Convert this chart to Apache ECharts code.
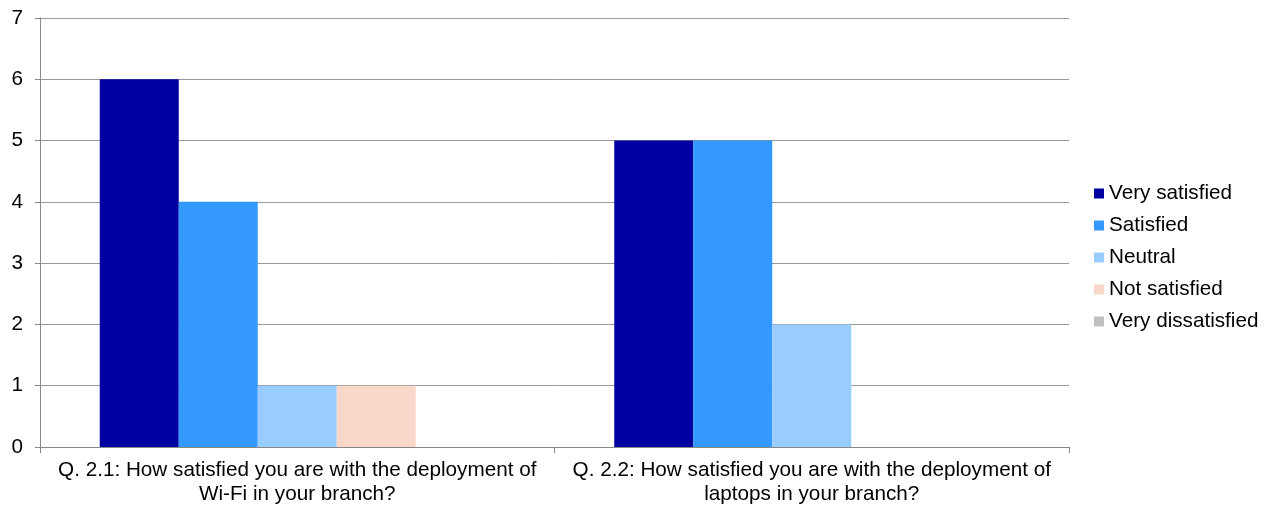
<!DOCTYPE html>
<html>
<head>
<meta charset="utf-8">
<script src="https://cdn.jsdelivr.net/npm/echarts@6/dist/echarts.min.js"></script>
<style>
	html, body { margin: 0; padding: 0; background: #fff; }
	/* 必须设置宽高 */
	#chart { width: 1279px; height: 508px; }
</style>
</head>
<body>
<div id="chart"></div>
<script>
	// 数据
	var categories = [
		'Q. 2.1: How satisfied you are with the deployment of\nWi-Fi in your branch?',
		'Q. 2.2: How satisfied you are with the deployment of\nlaptops in your branch?'
	];
	var seriesNames = ['Very satisfied', 'Satisfied', 'Neutral', 'Not satisfied', 'Very dissatisfied'];
	var verySatisfied = [6, 5];
	var satisfied = [4, 5];
	var neutral = [1, 2];
	var notSatisfied = [1, 0];
	var veryDissatisfied = [0, 0];
	var colors = ['#0000A0', '#3399FF', '#99CCFF', '#F9D8CA', '#C0C0C0'];

	var values = [verySatisfied, satisfied, neutral, notSatisfied, veryDissatisfied];
	var font = 'Liberation Sans, Arial, sans-serif';

	var chart = echarts.init(document.getElementById('chart'));

	var option = {
		animation: false,
		textStyle: { fontFamily: font },
		grid: { left: 40, right: 210, top: 18, bottom: 61 },
		legend: {
			orient: 'vertical',
			left: 1089,
			top: 178,
			itemWidth: 10,
			itemHeight: 10,
			itemGap: 11,
			icon: 'rect',
			data: seriesNames,
			textStyle: { fontSize: 20.7, color: '#000', fontFamily: font }
		},
		xAxis: {
			type: 'category',
			data: categories,
			axisLine: { lineStyle: { color: '#888' } },
			axisTick: { show: true, length: 6, lineStyle: { color: '#888' } },
			axisLabel: {
				color: '#000',
				fontSize: 20.7,
				lineHeight: 24,
				margin: 11,
				interval: 0,
				fontFamily: font
			}
		},
		yAxis: {
			type: 'value',
			min: 0,
			max: 7,
			interval: 1,
			axisLine: { show: true, lineStyle: { color: '#888' } },
			axisTick: { show: true, length: 5, lineStyle: { color: '#888' } },
			axisLabel: { color: '#000', fontSize: 20.7, margin: 17, fontFamily: font },
			splitLine: { lineStyle: { color: '#999' } }
		},
		series: seriesNames.map(function (name, i) {
			return {
				name: name,
				type: 'bar',
				data: values[i],
				barWidth: 79,
				barGap: '0%',
				itemStyle: { color: colors[i] }
			};
		})
	};

	chart.setOption(option);
</script>
</body>
</html>
